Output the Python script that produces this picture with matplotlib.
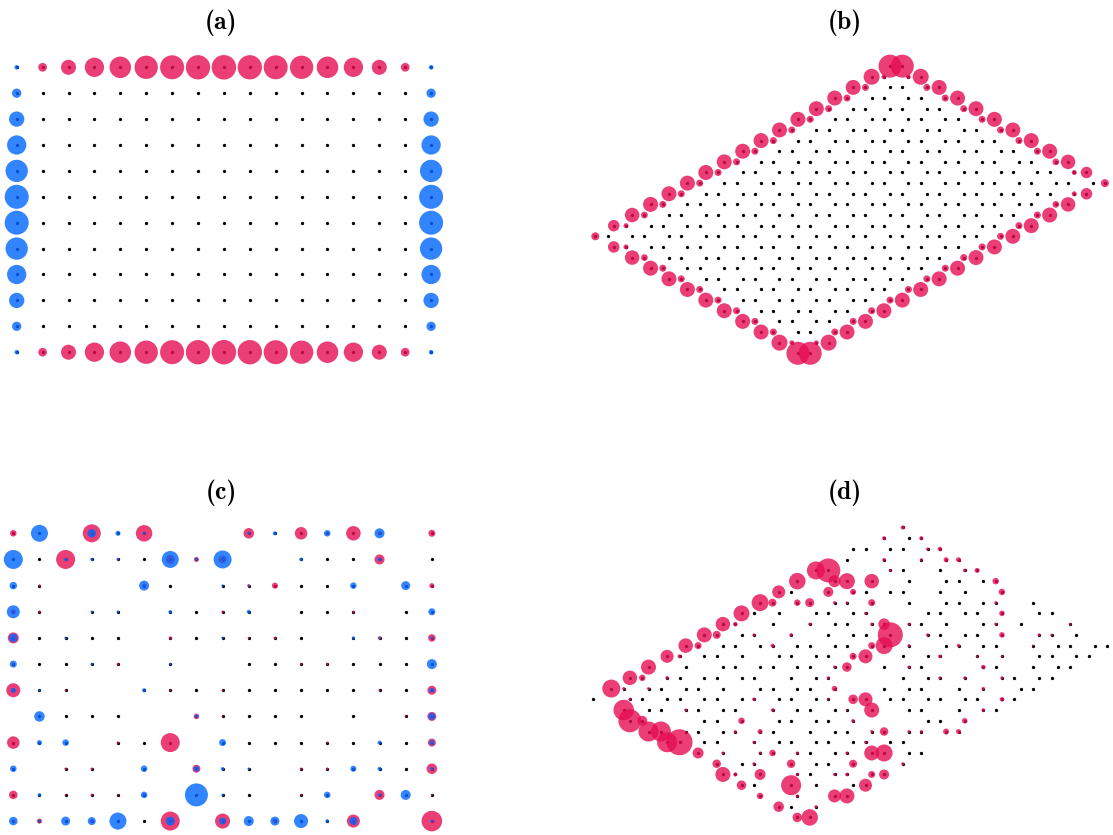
import os
import matplotlib
matplotlib.use("Agg")
import matplotlib.pyplot as plt
from matplotlib.font_manager import FontProperties
import numpy as np

DPI = 100
PINK = '#E50D52'
BLUE = '#0066FF'
ALPHA = 0.8
DOT = 3.3          # diameter of the bare lattice sites (px)
S3 = np.sqrt(3) / 2

# bold Computer Modern shipped with matplotlib, for the panel labels
CMB = FontProperties(fname=os.path.join(matplotlib.get_data_path(), 'fonts', 'ttf', 'cmb10.ttf'),
                     size=18.5)

# ---------------- (a) clean square lattice, 17 x 12 ----------------
# pink weight on top / bottom rows (columns 1..15)
A_ROW_PINK = [8.7, 15, 19.3, 21.5, 23.3, 24, 24.3, 24.5, 24.3, 24, 23.3, 21.5, 19.3, 15, 8.7]
# blue weight on left / right columns (rows 0..11, corners included)
A_COL_BLUE = [4.5, 9.3, 15.3, 19.3, 22.3, 24, 24, 22.3, 19.3, 15.3, 9.3, 4.5]

# ---------------- (b) clean honeycomb rhombus, 17 x 12 cells ----------------
B_UL_EDGE = [8, 11.5, 14.5, 15, 15, 15, 15, 15, 15, 15, 15, 15, 15, 15, 15, 16, 23]   # A(i,0)
B_UL_INNER = [0, 5, 6.7, 7, 7, 7, 7, 7, 7, 7, 7, 7, 7, 7, 7, 4.7]                    # B(i,0)
B_UR_EDGE = [23, 16, 15, 15, 15, 15, 15, 15, 15, 14.5, 11.5, 8]                       # B(16,j)
B_UR_INNER = [4.7, 7, 7, 7, 7, 7, 7, 7, 6.7, 5, 0]                                   # A(16,j), j>=1
B_LR_EDGE = [23, 16, 15, 15, 15, 15, 15, 15, 15, 15, 15, 15, 15, 15, 14.5, 11.5, 8]   # B(i,11)
B_LR_INNER = [4.7, 7, 7, 7, 7, 7, 7, 7, 7, 7, 7, 7, 7, 6.7, 5, 0]                    # A(i,11), i>=1
B_LL_EDGE = [8, 11.5, 14.5, 15, 15, 15, 15, 15, 15, 15, 16, 23]                       # A(0,j)
B_LL_INNER = [0, 5, 6.7, 7, 7, 7, 7, 7, 7, 7, 4.7]                                   # B(0,j), j<=10

# ---------------- (c) disordered square lattice ----------------
# None = removed site, 0 = bare site
C_PINK = [
    [6.5, 0, None, 18, 0, 16.5, None, None, None, 10.5, 0, 12.5, 3, 14.5, 4, None, 7],
    [0, 0, 19, 0, 2.5, 0, 9, 5, 8, None, None, 0, 0, 0, 10, None, 0],
    [0, 2.5, None, None, None, 4, 0, None, 0, 3, 6, 0, 0, 0, None, 0, 5],
    [5, 2.5, None, 0, 0, None, 0, 0, 2.5, 0, None, 0, 0, 2.5, None, 0, 0],
    [11, 0, 0, 0, 0, None, 3, 0, 0, 2, 2.5, 0, None, 0, 3.5, 0, 7.5],
    [3, 0, 0, 0, 2.5, None, 0, None, None, 0, 0, 2, 2, 0, 0, 0, 0],
    [14, 0, 2, None, None, 0, 2, 0, 2, 0, 0, 0, 0, 0, 2, 0, 9],
    [None, 0, 0, 0, 0, None, None, 5.5, 2, 0, 0, 0, None, 0, None, 2, 9],
    [12.5, 0, 0, None, 2.5, 0, 19, None, 0, 0, 0, 0, 2, 0, 0, 0, 8],
    [0, None, 2.5, 2.5, None, 0, None, 8, 0, 0, None, 2.5, 2.5, 0, 0, 0, 10.5],
    [8.5, 0, 2, 2.5, 2, 3, None, 0, 0, 0, None, 2, 0, None, 10, 0, 2],
    [3, 5, 0, 4, 0, 0, 19, None, 15, 0, 5, 0, 0, 13, None, None, 20.5],
]
C_BLUE = [
    [0, 17, None, 8.5, 5, 3, None, None, None, 3, 4, 0, 6.5, 0, 10, None, 0],
    [19, 0, 3.5, 3, 2.5, 0, 17, 3, 18, None, None, 3.5, 0, 0, 4, None, 0],
    [7.5, 0, None, None, None, 10, 0, None, 2.5, 2, 0, 0, 0, 6.5, None, 9, 0],
    [13, 0, None, 2.5, 2.5, None, 3.5, 0, 0, 4, None, 0, 0, 0, None, 0, 7],
    [8.5, 0, 2.5, 0, 0, None, 0, 0, 2.5, 0, 0, 0, None, 3, 2.5, 0, 3],
    [7, 0, 0, 2.5, 0, None, 2.5, None, None, 0, 0, 0, 0, 0, 0, 0, 10],
    [5, 2.5, 0, None, None, 4, 0, 0, 0, 0, 0, 0, 0, 0, 0, 0, 5],
    [None, 10.5, 0, 0, 0, None, None, 3.5, 0, 0, 0, 0, None, 0, None, 0, 7],
    [0, 5, 6.5, None, 0, 0, 0, None, 7, 0, 0, 0, 0, 0, 4, 0, 5],
    [6.5, None, 0, 0, None, 6.5, None, 5.5, 3.5, 2.5, None, 0, 0, 6, 4, 0, 3.5],
    [0, 3.5, 0, 0, 0, 6.5, None, 23, 2.5, 0, None, 0, 6.5, None, 3.5, 10, 0],
    [8.5, 3, 9, 8, 17, 0, 9, None, 7, 10, 9, 14, 3.5, 8, None, None, 3],
]

# ---------------- (d) disordered honeycomb rhombus ----------------
# one list per row r = i - j (16 at top, -11 at bottom); entries A,B,A,B,... for j = jmin..jmax
D_ROWS = [
    [None, 4],
    [None, 4, 0, 4],
    [0, 0, 0, 0, 3, 4.5],
    [None, 0, None, 3.5, None, 3, 5, 5],
    [18, 24, None, None, 3, 0, None, 0, 3.5, 5],
    [16.5, None, 12, 16, 14.5, None, 0, None, 0, 0, 0, 6.5],
    [13, 0, None, 10, 6, 0, 0, 0, None, 0, 0, None, 6.5, None],
    [17, 8, 6.5, 9, 3, 2.5, 7, None, 0, None, 0, 0, 0, 3, None, 0],
    [16, 0, 0, None, 0, 0, 0, 3, None, None, 0, 0, 0, 0, 5.5, None, 0, 0],
    [14.5, 4.5, None, 0, None, 3, 0, 0, 3, 11.5, 3, 0, 0, None, 0, 3, 0, None, None, 2.5],
    [15, 8, 0, 3, None, 3.5, None, 0, 0, 0, 25, None, 3, 0, 0, 0, 5.5, None, 3, 2.5, 0, None],
    [14.5, 7, 0, 0, 0, 4, 0, 0, 0, 0, 7, 17, 3, None, 0, 3.5, 0, 0, None, 2, 0, 0, 0, 0],
    [13, 4, 0, 0, 0, None, 0, 0, 0, 0, 7, 14, None, 0, 0, 3.5, None, 2.5, 2.5, None, 0, 0, 0, 0],
    [15, None, 0, None, 0, 0, 0, 0, 0, 0, 3, 9.5, None, 0, 3, 0, None, None, 4.5, 0, None, 0, 0, 0],
    [14.5, 6.5, 3.5, 0, 0, 0, 0, 0, None, 0, 0, 3, None, None, None, 0, 0, 3, 3, None, 3, 0, 0, 0],
    [18, 3, 3, 0, 0, 0, 0, None, 0, 0, 0, 0, 5.5, None, None, 0, 0, 0, None, 0, 3.5, None, 0, 0],
    [0, None, 3, 0, 0, 0, 0, 0, 0, 3.5, 0, 0, 0, 2.5, 9.5, 14, 0, 0, 0, 0, 0, 0, 4.5, 0],
    [None, 20.5, 0, 0, 3, 0, 0, 0, None, 3.5, 0, 0, 0, 2, 15, None, 0, 0, None, 0, 3.5, 0],
    [23, 10, None, None, 0, 0, 6.5, None, 0, 0, 0, 0, 3.5, None, None, None, 0, 0, 5.5, None],
    [20, 20, 0, 0, 0, 3, 5, 0, None, 0, 0, 0, 3, 8.5, 3, 3, 6, 5],
    [20, 26, 0, 0, None, 3, 0, 0, 0, 0, 0, 3, 0, 0, None, None],
    [None, 11, 3, None, 3, 6.5, 3, 0, 0, 3, 15, 17, 0, 0],
    [None, 8.5, 0, 3, None, 8.5, 0, 0, 8, None, None, 3],
    [15, 4, 11, None, 3, 0, 3, 3.5, 7, 10],
    [9.5, 0, None, 20, 0, None, 0, 13],
    [6.5, None, 3, None, 13, 15],
    [10.5, 0, 3, None],
    [9.5, 16.5],
]
D_ROW_IDS = list(range(16, -12, -1))

NI, NJ = 17, 12


def area(d):
    # circle diameter in pixels -> scatter area in pt^2
    return (np.asarray(d, dtype=float) * 72.0 / DPI) ** 2


def make_axes(fig, ox, oy, unit, xlim, ylim):
    # (ox, oy): pixel position of data (0, 0) measured from top-left; unit: px per data unit
    W, H = fig.get_size_inches() * fig.dpi
    left = ox + xlim[0] * unit
    right = ox + xlim[1] * unit
    top = oy - ylim[1] * unit
    bottom = oy - ylim[0] * unit
    ax = fig.add_axes([left / W, 1 - bottom / H, (right - left) / W, (bottom - top) / H])
    ax.set_xlim(*xlim)
    ax.set_ylim(*ylim)
    ax.axis('off')
    return ax


def draw_sites(ax, xs, ys, pink, blue=None):
    xs = np.asarray(xs, float)
    ys = np.asarray(ys, float)
    ax.scatter(xs, ys, s=area(DOT), c='black', linewidths=0, zorder=1, clip_on=False)
    pink = np.asarray(pink, float)
    m = pink > 0
    ax.scatter(xs[m], ys[m], s=area(pink[m]), c=PINK, alpha=ALPHA, linewidths=0,
               zorder=2, clip_on=False)
    if blue is not None:
        blue = np.asarray(blue, float)
        m = blue > 0
        ax.scatter(xs[m], ys[m], s=area(blue[m]), c=BLUE, alpha=ALPHA, linewidths=0,
                   zorder=3, clip_on=False)


def hc_xy(sub, i, j):
    return 1.5 * (i + j) + (1.0 if sub == 'B' else 0.0), S3 * (i - j)


fig = plt.figure(figsize=(11.13, 8.35), dpi=DPI)

# ---- (a)
ax = make_axes(fig, 16.7, 67.3, 25.9, (-0.8, 16.8), (-11.8, 0.8))
xs, ys, pk, bl = [], [], [], []
for row in range(NJ):
    for col in range(NI):
        p = b = 0.0
        if row in (0, NJ - 1) and 1 <= col <= NI - 2:
            p = A_ROW_PINK[col - 1]
        if col in (0, NI - 1):
            b = A_COL_BLUE[row]
        xs.append(col); ys.append(-row); pk.append(p); bl.append(b)
draw_sites(ax, xs, ys, pk, bl)

# ---- (b)
amp_b = {}
for i in range(NI):
    for j in range(NJ):
        amp_b[('A', i, j)] = 0.0
        amp_b[('B', i, j)] = 0.0
for i, v in enumerate(B_UL_EDGE):
    amp_b[('A', i, 0)] = v
for i, v in enumerate(B_UL_INNER):
    amp_b[('B', i, 0)] = v
for j, v in enumerate(B_UR_EDGE):
    amp_b[('B', NI - 1, j)] = v
for j, v in enumerate(B_UR_INNER, start=1):
    amp_b[('A', NI - 1, j)] = v
for i, v in enumerate(B_LR_EDGE):
    amp_b[('B', i, NJ - 1)] = v
for i, v in enumerate(B_LR_INNER, start=1):
    amp_b[('A', i, NJ - 1)] = v
for j, v in enumerate(B_LL_EDGE):
    amp_b[('A', 0, j)] = v
for j, v in enumerate(B_LL_INNER):
    amp_b[('B', 0, j)] = v

ax = make_axes(fig, 595.3, 236.3, 12.28, (-1.2, 42.7), (-11 * S3 - 1.2, 16 * S3 + 1.2))
xs, ys, pk = [], [], []
for (sub, i, j), v in amp_b.items():
    x, y = hc_xy(sub, i, j)
    xs.append(x); ys.append(y); pk.append(v)
draw_sites(ax, xs, ys, pk)

# ---- (c)
ax = make_axes(fig, 13.3, 533.3, 26.16, (-0.8, 16.8), (-11.8, 0.8))
xs, ys, pk, bl = [], [], [], []
for row in range(NJ):
    for col in range(NI):
        if C_PINK[row][col] is None:
            continue
        xs.append(col); ys.append(-row)
        pk.append(C_PINK[row][col]); bl.append(C_BLUE[row][col])
draw_sites(ax, xs, ys, pk, bl)

# ---- (d)
ax = make_axes(fig, 592.7, 699.3, 12.4, (-1.2, 42.7), (-11 * S3 - 1.2, 16 * S3 + 1.2))
xs, ys, pk = [], [], []
for r, vals in zip(D_ROW_IDS, D_ROWS):
    jmin = max(0, -r)
    for k, v in enumerate(vals):
        if v is None:
            continue
        j = jmin + k // 2
        sub = 'A' if k % 2 == 0 else 'B'
        x, y = hc_xy(sub, j + r, j)
        xs.append(x); ys.append(y); pk.append(v)
draw_sites(ax, xs, ys, pk)

# panel labels
for lab, (px, py) in zip('abcd', [(221, 19.5), (845, 19.5), (221, 489), (845, 489)]):
    fig.text(px / 1113, 1 - py / 835, '(%s)' % lab, fontproperties=CMB,
             ha='center', va='center_baseline')

fig.savefig('out.png', dpi=DPI)
